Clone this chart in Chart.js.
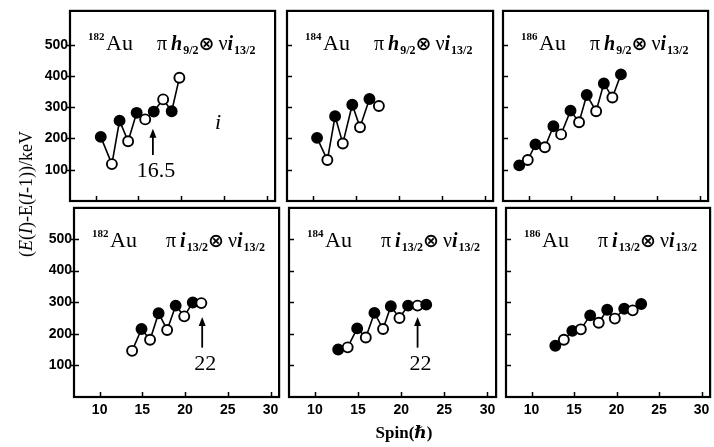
<!DOCTYPE html>
<html>
<head>
<meta charset="utf-8">
<script src="https://cdn.jsdelivr.net/npm/chart.js@4.4.1/dist/chart.umd.min.js"></script>
<style>
  body { margin: 0; background: #fff; width: 714px; height: 447px; position: relative; overflow: hidden;
         font-family: "Liberation Serif", "DejaVu Serif", serif; color: #000; }
  canvas { position: absolute; }
  .t { position: absolute; white-space: nowrap; line-height: 1; }
  .sup { font-size: 11px; font-weight: bold; }
  .au { font-size: 22px; }
  .cfg { font-size: 20px; }
  .cfg .p { margin-right: 4px; }
  .cfg i { font-weight: bold; }
  .cfg sub { font-size: 12px; font-weight: bold; vertical-align: -4px; margin-left: 1px; }
  .cfg .ot { font-family: "DejaVu Sans", sans-serif; font-size: 19px; font-weight: bold; margin: 0 4px 0 0; }
</style>
</head>
<body>
<script>
// spin (hbar) and E(I)-E(I-1) (keV); fill: 1 = filled circle, 0 = open
const spin182h = [10.6, 11.9, 12.8, 13.8, 14.8, 15.8, 16.8, 17.9, 18.9, 19.8];
const de182h   = [205, 118, 257, 191, 282, 261, 286, 325, 287, 394];
const fill182h = [1, 0, 1, 0, 1, 0, 1, 0, 1, 0];

const spin184h = [10.5, 11.7, 12.6, 13.5, 14.6, 15.5, 16.6, 17.7];
const de184h   = [202, 131, 271, 184, 308, 236, 326, 304];
const fill184h = [1, 0, 1, 0, 1, 0, 1, 0];

const spin186h = [8.9, 9.9, 10.8, 11.9, 12.9, 13.8, 14.9, 15.9, 16.8, 17.9, 18.8, 19.8, 20.8];
const de186h   = [114, 131, 181, 172, 239, 213, 289, 252, 339, 287, 376, 331, 405];
const fill186h = [1, 0, 1, 0, 1, 0, 1, 0, 1, 0, 1, 0, 1];

const spin182i = [13.8, 14.9, 15.9, 16.9, 17.9, 18.9, 19.9, 20.9, 21.9];
const de182i   = [146, 215, 181, 265, 212, 289, 255, 299, 297];
const fill182i = [0, 1, 0, 1, 0, 1, 0, 1, 0];

const spin184i = [12.7, 13.8, 14.9, 15.9, 16.9, 17.9, 18.8, 19.8, 20.8, 21.9, 22.9];
const de184i   = [150, 157, 217, 188, 266, 215, 287, 250, 289, 289, 292];
const fill184i = [1, 0, 1, 0, 1, 0, 1, 0, 1, 0, 1];

const spin186i = [12.8, 13.8, 14.8, 15.8, 16.9, 17.9, 18.9, 19.8, 20.9, 21.9, 22.9];
const de186i   = [162, 181, 209, 214, 258, 235, 276, 248, 279, 274, 294];
const fill186i = [1, 0, 1, 0, 1, 0, 1, 0, 1, 0, 1];

// arrows: [spin, tail value, tip value], label
const note182h = [16.7, 147, 231];
const note182i = [22.0, 156, 253];
const note184i = [21.9, 156, 253];
const noteText = ['16.5', '22', '22'];

const xTicks = [10, 15, 20, 25, 30];
const yTicks = [100, 200, 300, 400, 500];

//////// frame, inward ticks and arrows ////////
const framePlugin = {
  id: 'frame',
  afterDraw(chart, args, o) {
    const ctx = chart.ctx, a = chart.chartArea;
    const xs = chart.scales.x, ys = chart.scales.y;
    ctx.save();
    ctx.strokeStyle = '#000';
    ctx.lineWidth = 1.5;
    xTicks.forEach(v => {
      const px = Math.round(xs.getPixelForValue(v)) + 0.5;
      ctx.beginPath(); ctx.moveTo(px, a.bottom); ctx.lineTo(px, a.bottom - 5); ctx.stroke();
    });
    yTicks.forEach(v => {
      const py = Math.round(ys.getPixelForValue(v)) + 0.5;
      ctx.beginPath(); ctx.moveTo(a.left - (o.outer ? 3 : 0), py); ctx.lineTo(a.left + 5, py); ctx.stroke();
    });
    ctx.lineWidth = 2.2;
    ctx.strokeRect(a.left, a.top, a.right - a.left, a.bottom - a.top);

    if (o.note) {
      const ax = xs.getPixelForValue(o.note[0]);
      const y0 = ys.getPixelForValue(o.note[1]);
      const y1 = ys.getPixelForValue(o.note[2]);
      ctx.lineWidth = 1.8;
      ctx.beginPath(); ctx.moveTo(ax, y0); ctx.lineTo(ax, y1 + 6); ctx.stroke();
      ctx.fillStyle = '#000';
      ctx.beginPath(); ctx.moveTo(ax, y1); ctx.lineTo(ax - 3.5, y1 + 9); ctx.lineTo(ax + 3.5, y1 + 9); ctx.closePath(); ctx.fill();
      ctx.font = '22px "Liberation Serif", serif';
      ctx.textAlign = 'center';
      ctx.textBaseline = 'alphabetic';
      ctx.fillText(o.text, ax + 3, y0 + 22);
    }
    ctx.restore();
  }
};

const PL = 46, PT = 4, PR = 4, PB = 26;
const tickFont = { family: 'Liberation Sans', weight: 'bold', size: 14 };

function makePanel(box, spins, vals, fills, o) {
  const cv = document.createElement('canvas');
  cv.width = box[2] - box[0] + PL + PR;
  cv.height = box[3] - box[1] + PT + PB;
  cv.style.left = (box[0] - PL) + 'px';
  cv.style.top = (box[1] - PT) + 'px';
  document.body.appendChild(cv);
  return new Chart(cv, {
    type: 'line',
    data: {
      datasets: [{
        data: spins.map((s, i) => ({ x: s, y: vals[i] })),
        borderColor: '#000',
        borderWidth: 1.6,
        pointRadius: 5,
        pointBorderWidth: 1.9,
        pointBorderColor: '#000',
        pointBackgroundColor: fills.map(f => f ? '#000' : '#fff'),
        tension: 0
      }]
    },
    options: {
      responsive: false,
      animation: false,
      events: [],
      layout: { padding: { left: 0, top: PT, right: PR, bottom: 0 } },
      plugins: {
        legend: { display: false },
        tooltip: { enabled: false },
        frame: { outer: o.left, note: o.note, text: o.text }
      },
      scales: {
        x: {
          type: 'linear', min: 7, max: 31,
          grid: { display: false, drawTicks: false },
          border: { display: false },
          afterBuildTicks: s => { s.ticks = xTicks.map(v => ({ value: v })); },
          afterFit: s => { s.height = PB; s.paddingLeft = 0; s.paddingRight = 0; },
          ticks: { display: o.bottom, padding: 5, color: '#000', font: tickFont, maxRotation: 0 }
        },
        y: {
          type: 'linear', min: 0, max: o.ymax,
          grid: { display: false, drawTicks: false },
          border: { display: false },
          afterBuildTicks: s => { s.ticks = yTicks.map(v => ({ value: v })); },
          afterFit: s => { s.width = PL; s.paddingTop = 0; s.paddingBottom = 0; },
          ticks: { display: o.left, padding: 2, color: '#000', font: tickFont }
        }
      }
    },
    plugins: [framePlugin]
  });
}

// frames: [left, top, right, bottom]
const boxes = [
  [70, 8, 278, 201], [287, 8, 496, 201], [503, 8, 711, 201],
  [74, 205, 282, 397], [289, 205, 499, 397], [506, 205, 713, 397]
];

makePanel(boxes[0], spin182h, de182h, fill182h, { left: true, bottom: false, ymax: 608, note: note182h, text: noteText[0] });
makePanel(boxes[1], spin184h, de184h, fill184h, { left: false, bottom: false, ymax: 608 });
makePanel(boxes[2], spin186h, de186h, fill186h, { left: false, bottom: false, ymax: 608 });
makePanel(boxes[3], spin182i, de182i, fill182i, { left: true, bottom: true, ymax: 598, note: note182i, text: noteText[1] });
makePanel(boxes[4], spin184i, de184i, fill184i, { left: false, bottom: true, ymax: 598, note: note184i, text: noteText[2] });
makePanel(boxes[5], spin186i, de186i, fill186i, { left: false, bottom: true, ymax: 598 });

// panel labels
const masses = ['182', '184', '186', '182', '184', '186'];
const cfgH = '<span class="p">π</span><i>h</i><sub>9/2</sub><span class="ot">⊗</span>ν<i>i</i><sub>13/2</sub>';
const cfgI = '<span class="p">π</span><i>i</i><sub>13/2</sub><span class="ot">⊗</span>ν<i>i</i><sub>13/2</sub>';

function addText(html, cls, left, top) {
  const d = document.createElement('div');
  d.className = 't ' + cls;
  d.innerHTML = html;
  d.style.left = left + 'px';
  d.style.top = top + 'px';
  document.body.appendChild(d);
  return d;
}

boxes.forEach((b, i) => {
  addText(masses[i], 'sup', b[0] + 18, b[1] + 23);
  addText('Au', 'au', b[0] + 36, b[1] + 24);
  addText(i < 3 ? cfgH : cfgI, 'cfg', b[0] + (i < 3 ? 87 : 92), b[1] + 25);
});

addText('<i>i</i>', 'au', 215, 111);

// axis titles
const yt = addText('(<i>E</i>(<i>I</i>)-E(<i>I</i>-1))/keV', '', 26, 194);
yt.style.fontSize = '18px';
yt.style.transform = 'translate(-50%,-50%) rotate(-90deg)';

const xt = addText('Spin(<i>ℏ</i>)', '', 404, 432);
xt.style.fontSize = '17px';
xt.style.fontWeight = 'bold';
xt.style.transform = 'translate(-50%,-50%)';
</script>
</body>
</html>
